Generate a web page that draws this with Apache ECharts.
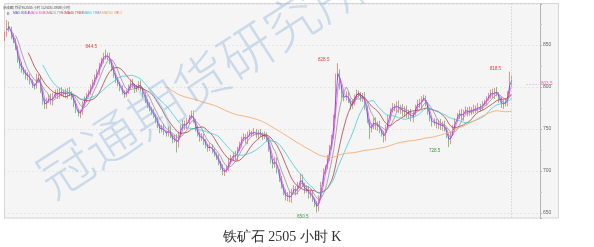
<!DOCTYPE html>
<html><head><meta charset="utf-8">
<script src="https://cdn.jsdelivr.net/npm/echarts@6/dist/echarts.min.js"></script>
<style>html,body{margin:0;padding:0;background:#fff}#c{width:594px;height:247px}</style>
</head><body><div id="c"></div>
<script>
// ---- data (hourly bars, condensed) ----
const opens = [
858,862,875,870,861,855,846,832,827,821,
818,811,814,806,801,800,809,812,795,783,
777,784,789,781,790,795,789,797,791,795,
789,797,793,787,781,771,767,770,781,785,
791,794,801,805,813,817,827,831,839,835,
839,829,823,813,809,803,799,793,791,795,
800,807,801,797,799,805,797,791,783,779,
773,771,765,761,753,749,753,745,744,751,
741,737,741,732,744,753,757,753,759,765,
769,759,751,743,739,741,735,729,727,729,
725,719,717,709,705,697,701,703,713,715,
721,715,727,731,739,741,735,745,745,745,
747,741,747,743,741,743,737,725,711,707,
713,699,691,681,675,667,673,665,677,679,
675,683,693,683,677,679,671,673,665,661,
655,669,685,699,705,715,729,741,766,812,
818,800,789,787,791,783,777,781,789,793,
791,785,791,775,759,749,753,761,751,757,
747,745,739,753,763,773,777,773,781,771,
777,767,775,765,771,761,769,775,783,777,
787,787,779,771,761,757,759,753,759,751,
757,749,741,735,745,751,761,765,771,763,
771,773,769,773,771,775,773,777,775,781,
781,787,789,795,789,797,791,785,777,783,
780,793,812
];
const closes = [
862,874,870,860,855,848,832,826,820,818,
812,815,806,802,800,810,812,796,782,778,
784,788,782,790,794,790,796,792,794,790,
796,792,788,780,772,768,770,780,786,790,
794,800,806,812,818,826,832,838,836,838,
830,822,814,808,804,798,794,790,794,800,
806,802,796,800,804,798,790,784,778,774,
770,766,760,754,748,752,746,744,750,742,
736,740,730,744,752,758,752,760,764,768,
760,750,744,738,742,734,730,726,730,724,
720,716,710,704,698,700,704,712,716,720,
716,726,732,738,742,736,744,746,744,748,
742,746,744,740,744,738,726,712,706,714,
700,690,682,674,668,672,666,676,680,674,
684,692,684,676,680,670,674,666,660,656,
668,684,700,704,716,728,740,764,812,820,
800,790,786,792,784,776,782,788,794,790,
786,790,776,760,748,754,760,752,756,748,
744,740,752,764,772,778,774,780,772,776,
768,774,766,770,762,768,776,782,778,786,
788,780,770,762,756,760,754,758,752,756,
750,742,734,744,752,760,766,770,764,770,
774,768,774,770,776,772,778,774,780,782,
786,790,794,790,796,792,784,778,782,780,
792,812,803.5
];
const highs = [
866,880,878,872,864,858,849,835,830,824,
821,818,816,809,804,816,815,814,797,786,
787,791,792,793,797,798,799,800,797,798,
799,800,795,790,784,774,773,783,789,793,
797,803,809,815,821,829,835,841,844.5,841,
841,832,826,816,812,806,802,796,797,803,
809,810,804,803,807,808,800,794,786,782,
776,774,768,764,756,755,756,748,753,754,
744,743,744,747,755,761,760,763,767,772,
772,762,754,746,745,744,738,732,733,732,
728,722,720,712,708,703,707,715,719,723,
724,729,735,741,745,744,747,749,748,751,
750,749,750,746,747,746,740,728,714,717,
716,702,694,684,678,675,676,679,683,682,
687,697,696,686,683,682,677,676,668,664,
671,687,703,707,719,731,743,767,816,828.5,
821,803,792,795,794,786,785,791,797,796,
794,793,794,778,762,757,763,764,759,760,
750,748,755,767,775,781,780,783,784,779,
780,777,778,773,774,771,779,785,786,789,
791,790,782,774,764,763,762,761,762,759,
760,752,744,747,755,763,769,773,774,773,
777,776,777,776,779,778,781,780,783,785,
789,793,797,798,799,800,794,788,785,786,
795,818.5,814
];
const lows = [
855,860,866,857,852,844,829,822,817,815,
809,808,803,799,797,798,805,793,779,774,
774,781,779,778,787,786,786,789,788,787,
786,789,785,776,769,765,763,767,778,782,
788,791,798,802,810,814,824,828,833,832,
827,819,811,805,801,795,791,787,788,792,
797,799,793,794,796,795,787,781,775,771,
767,763,757,751,745,746,743,741,741,739,
733,734,722,728,741,750,749,750,756,762,
757,747,741,735,736,731,727,723,724,721,
717,713,707,701,695,694,698,700,710,712,
713,712,724,728,736,733,732,742,741,742,
739,738,741,737,738,735,723,709,703,704,
697,687,679,671,665,664,663,662,674,671,
672,680,681,673,674,667,668,663,657,650.5,
652,666,682,696,702,712,726,738,763,808,
797,787,783,784,781,773,774,778,786,787,
783,782,773,757,738,746,750,749,748,745,
741,734,736,750,760,770,771,770,769,768,
765,764,763,762,759,758,766,772,775,774,
784,777,767,759,753,754,751,750,749,748,
747,739,728.5,732,742,748,758,762,761,760,
768,765,766,767,768,769,770,771,772,778,
778,784,786,787,786,789,781,775,774,777,
777,790,801
];
const emptySlots = 13;                 // blank bars right of the last candle
const maNames = ['MA5','MA10','MA20','MA40','MA60','MA250'];
const maLastValues = ['808.4','801.0','793.2','791.8','786.8','769.2'];
const maBars = [2,3,6,12,19,78];       // window lengths on this condensed bar scale
const highMarks = [[48,844.5],[159,828.5],[241,818.5]];
const lowMarks = [[149,650.5],[212,728.5]];
const lastPrice = 803.5;
const headerLine = '[K线图] 铁矿石2505 小时 1(2505)-0909[小时]';
const titleText = '铁矿石 2505 小时 K';
const watermark = '冠通期货研究所';

// ---- build ----
const maColors = ['#4a4ae0','#ff3cff','#8c8c8c','#a83838','#3cc6d6','#f7b27e'];
const n = closes.length;
const cats = [];
for (let i = 0; i < n + emptySlots; i++) cats.push(String(i));
const kdata = closes.map((c, i) => [opens[i], c, lows[i], highs[i]]);
function movingAvg(p) {
  const out = [];
  for (let i = 0; i < n; i++) {
    if (i < p - 1) { out.push('-'); continue; }
    let s = 0;
    for (let j = i - p + 1; j <= i; j++) s += closes[j];
    out.push(+(s / p).toFixed(2));
  }
  return out;
}
const maSeries = maNames.map((name, k) => ({
  name, type: 'line', data: movingAvg(maBars[k]), showSymbol: false, symbol: 'none',
  lineStyle: { color: maColors[k], width: k === 5 ? 1 : 0.75 }, z: 3, silent: true
}));

const markData = highMarks.map(m => ({
  coord: [m[0], m[1]], value: m[1],
  label: { color: '#ee3b3b', position: 'left', offset: [-3, -3] }
})).concat(lowMarks.map(m => ({
  coord: [m[0], m[1]], value: m[1],
  label: { color: '#3a9a3a', position: 'left', offset: [-3, 4] }
})));

const chart = echarts.init(document.getElementById('c'), null, { renderer: 'canvas' });
const hdrX = [13, 29, 47, 65, 83, 102];
const graphics = [
  { type: 'rect', z: -10, shape: { x: 4.5, y: 3.5, width: 554, height: 214.5 },
    style: { fill: '#f5f5f5', stroke: '#d6d6d6', lineWidth: 1 } },
  { type: 'text', z: 50, left: 3, top: 6, style: { text: headerLine, fontSize: 3.4, fill: '#555', fontFamily: 'Noto Sans CJK SC' } },
  { type: 'text', z: 50, left: 7, top: 12, style: { text: 'K', fontSize: 3.6, fill: '#333', fontFamily: 'Liberation Sans' } }
];
maNames.forEach((nm, k) => {
  graphics.push({ type: 'text', z: 50, left: hdrX[k], top: 12,
    style: { text: nm + ' ' + maLastValues[k], fontSize: 3.4, fill: maColors[k] === '#f7b27e' ? '#f09a60' : maColors[k], fontFamily: 'Liberation Sans' } });
  graphics.push({ type: 'text', z: 50, left: hdrX[k] + 14, top: 12,
    style: { text: '↑', fontSize: 3.4, fill: '#e33', fontFamily: 'DejaVu Sans' } });
});
graphics.push({ type: 'text', z: 100, x: 201, y: 80, rotation: 33 * Math.PI / 180,
  style: { text: watermark, fontSize: 54, fill: 'rgba(120,168,215,0.34)', fontFamily: 'Noto Sans CJK SC', fontWeight: 200,
    textAlign: 'center', textVerticalAlign: 'middle' } });
graphics.push({ type: 'text', z: 50, x: 282, y: 237,
  style: { text: titleText, fontSize: 14, fill: '#333', fontFamily: 'Liberation Serif, DejaVu Serif, serif',
    textAlign: 'center', textVerticalAlign: 'middle' } });

chart.setOption({
  animation: false,
  backgroundColor: '#ffffff',
  grid: { left: 4, right: 54, top: 4, bottom: 29 },
  xAxis: { type: 'category', data: cats, boundaryGap: true,
    axisLine: { show: false }, axisTick: { show: false }, axisLabel: { show: false }, splitLine: { show: false } },
  yAxis: { type: 'value', position: 'right', min: 644, max: 899, splitNumber: 5,
    axisLine: { show: true, lineStyle: { color: '#b4b4b4', width: 1 } },
    axisTick: { show: true, length: 2, lineStyle: { color: '#b4b4b4' } },
    minorTick: { show: true, splitNumber: 2, length: 2, lineStyle: { color: '#c4c4c4' } },
    axisLabel: { fontSize: 5, color: '#666', margin: 3, showMinLabel: false, showMaxLabel: false, fontFamily: 'Liberation Sans' },
    splitLine: { show: true, lineStyle: { color: '#dddddd', type: [2, 2], width: 0.6 } } },
  graphic: graphics,
  series: [{
    name: 'K', type: 'candlestick', data: kdata, barWidth: 1.3, z: 2,
    itemStyle: { color: '#f27a7a', color0: '#4aa34a', borderColor: '#ee4848', borderColor0: '#3f963f', borderWidth: 0.6 },
    markPoint: { symbol: 'circle', symbolSize: 1, itemStyle: { color: 'rgba(0,0,0,0)' },
      label: { show: true, fontSize: 4.6, fontFamily: 'Liberation Sans', formatter: p => p.value.toFixed(1) },
      data: markData },
    markLine: { silent: true, symbol: 'none', animation: false,
      data: [
        { xAxis: n - 1, lineStyle: { color: '#c8c8c8', type: [1.5, 1.5], width: 0.7 }, label: { show: false } },
        [ { coord: [n + 6, lastPrice], lineStyle: { color: '#f0a8c8', type: [1.5, 1.5], width: 0.8 },
            label: { show: true, position: 'end', formatter: String(lastPrice), color: '#e070a8', fontSize: 4.6, distance: 2 } },
          { coord: [n + emptySlots - 1, lastPrice] } ]
      ] }
  }].concat(maSeries)
});
</script></body></html>
